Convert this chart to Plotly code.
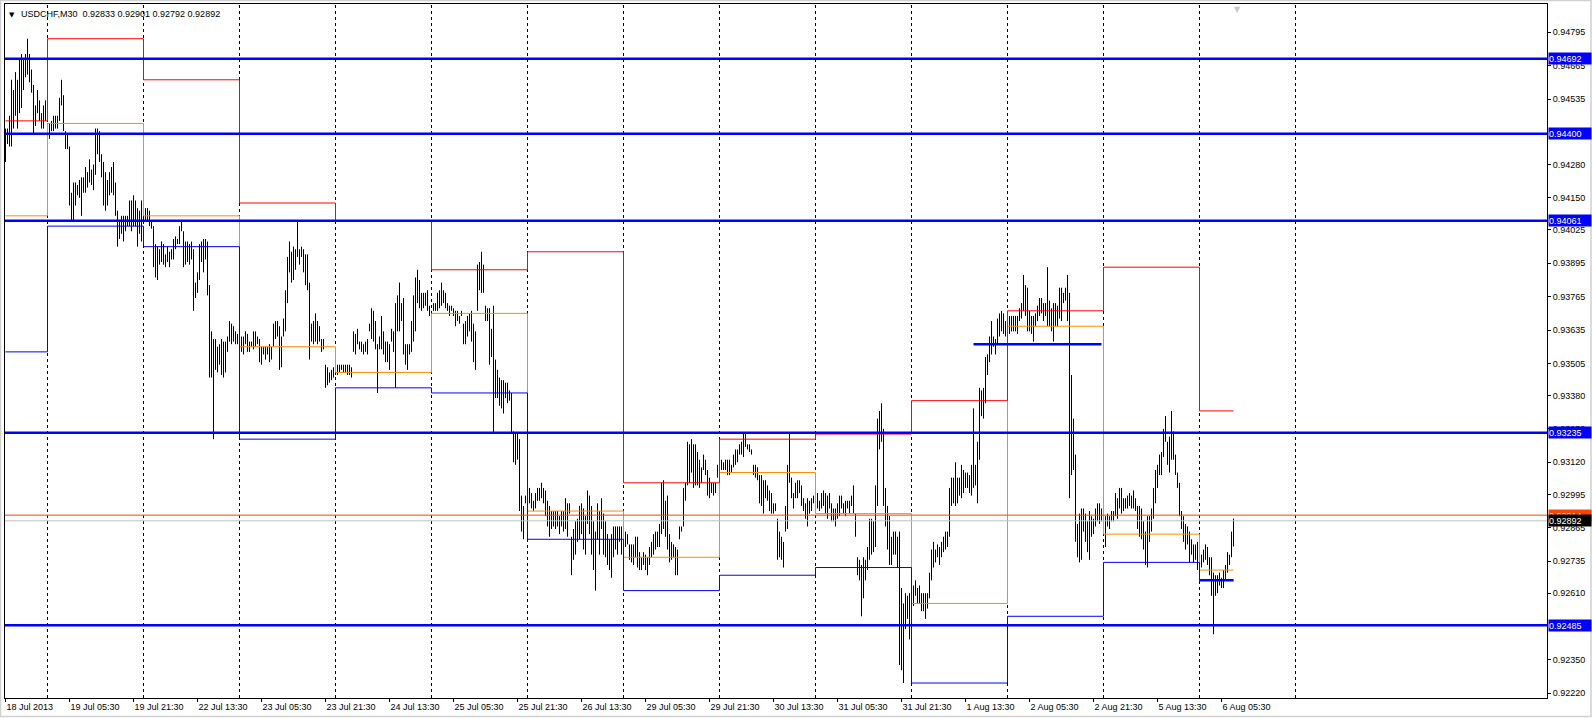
import plotly.graph_objects as go

# ---------------- data ----------------
title_text = "USDCHF,M30  0.92833 0.92901 0.92792 0.92892"

# M30 bar highs / lows, bar 0 = 18 Jul 2013 13:30
hi = [
    0.9442,0.9442,0.9447,0.9461,0.9457,0.9464,0.9461,0.9469,0.9471,0.9469,0.9471,0.9477,0.9471,0.9465,0.9459,0.9451,0.9457,0.9453,0.9448,0.9451,0.9453,
    0.9444,0.9444,0.9445,0.9447,0.9447,0.9447,0.9454,0.9461,0.9455,0.9441,0.9440,0.9435,0.9417,0.9421,0.9421,0.9420,0.9422,0.9423,0.9423,0.9427,
    0.9425,0.9430,0.9426,0.9428,0.9442,0.9442,0.9441,0.9432,0.9429,0.9425,0.9422,0.9425,0.9427,0.9429,0.9421,0.9410,0.9406,0.9408,0.9408,0.9408,
    0.9408,0.9414,0.9414,0.9416,0.9414,0.9411,0.9410,0.9414,0.9413,0.9411,0.9411,0.9410,0.9406,0.9404,0.9397,0.9396,0.9395,0.9398,0.9397,0.9393,
    0.9396,0.9394,0.9395,0.9399,0.9400,0.9399,0.9404,0.9406,0.9402,0.9398,0.9398,0.9397,0.9398,0.9395,0.9382,0.9386,0.9397,0.9398,0.9399,0.9399,0.9398,
    0.9381,0.9363,0.9360,0.9360,0.9357,0.9358,0.9360,0.9359,0.9359,0.9361,0.9367,0.9366,0.9365,0.9363,0.9362,0.9361,0.9361,0.9361,0.9363,
    0.9362,0.9359,0.9359,0.9363,0.9363,0.9361,0.9360,0.9357,0.9357,0.9357,0.9357,0.9358,0.9357,0.9366,0.9367,0.9367,0.9365,0.9361,0.9368,0.9379,
    0.9392,0.9398,0.9394,0.9396,0.9395,0.9406,0.9395,0.9396,0.9395,0.9393,0.9393,0.9382,0.9366,0.9367,0.9370,0.9367,0.9365,0.9360,0.9360,0.9350,
    0.9349,0.9347,0.9348,0.9349,0.9351,0.9350,0.9350,0.9350,0.9350,0.9350,0.9350,0.9350,0.9349,0.9363,0.9362,0.9364,0.9359,0.9359,0.9358,0.9359,
    0.9360,0.9366,0.9372,0.9371,0.9367,0.9358,0.9361,0.9369,0.9363,0.9359,0.9359,0.9358,0.9364,0.9363,0.9374,0.9377,0.9382,0.9374,0.9376,0.9358,
    0.9358,0.9358,0.9367,0.9377,0.9384,0.9387,0.9383,0.9378,0.9378,0.9378,0.9379,0.9373,0.9371,0.9374,0.9374,0.9378,0.9379,0.9382,0.9379,0.9378,
    0.9374,0.9373,0.9373,0.9372,0.9371,0.9371,0.9369,0.9371,0.9366,0.9367,0.9369,0.9370,0.9371,0.9366,0.9363,0.9389,0.9390,0.9394,0.9389,0.9373,
    0.9372,0.9372,0.9364,0.9373,0.9352,0.9348,0.9345,0.9344,0.9344,0.9343,0.9343,0.9340,0.9339,0.9324,0.9323,0.9323,0.9321,0.9299,0.9295,0.9299,
    0.9300,0.9302,0.9300,0.9297,0.9300,0.9302,0.9302,0.9304,0.9302,0.9301,0.9297,0.9295,0.9293,0.9293,0.9293,0.9293,0.9291,0.9293,0.9293,0.9298,
    0.9296,0.9296,0.9283,0.9286,0.9289,0.9290,0.9295,0.9296,0.9294,0.9291,0.9301,0.9299,0.9295,0.9289,0.9285,0.9296,0.9293,0.9298,0.9292,0.9289,
    0.9284,0.9282,0.9284,0.9287,0.9287,0.9287,0.9287,0.9287,0.9284,0.9285,0.9284,0.9280,0.9280,0.9280,0.9283,0.9283,0.9277,0.9275,0.9277,0.9276,
    0.9275,0.9279,0.9281,0.9284,0.9285,0.9285,0.9288,0.9304,0.9305,0.9297,0.9299,0.9284,0.9281,0.9280,0.9279,0.9278,0.9287,0.9287,0.9302,0.9304,
    0.9320,0.9319,0.9321,0.9319,0.9319,0.9316,0.9313,0.9310,0.9315,0.9313,0.9309,0.9306,0.9304,0.9304,0.9304,0.9311,0.9317,0.9313,0.9312,0.9313,
    0.9313,0.9313,0.9311,0.9315,0.9317,0.9317,0.9319,0.9320,0.9323,0.9323,0.9319,0.9319,0.9317,0.9311,0.9311,0.9310,0.9307,0.9307,0.9305,0.9305,
    0.9303,0.9301,0.9300,0.9296,0.9296,0.9290,0.9285,0.9283,0.9281,0.9295,0.9311,0.9323,0.9306,0.9300,0.9304,0.9305,0.9305,0.9303,0.9298,0.9296,
    0.9298,0.9297,0.9298,0.9299,0.9304,0.9300,0.9297,0.9300,0.9301,0.9300,0.9299,0.9300,0.9296,0.9294,0.9294,0.9296,0.9299,0.9299,0.9296,0.9297,
    0.9297,0.9297,0.9299,0.9303,0.9292,0.9275,0.9274,0.9272,0.9275,0.9274,0.9279,0.9290,0.9290,0.9289,0.9303,0.9329,0.9332,0.9335,0.9325,0.9302,
    0.9295,0.9291,0.9283,0.9285,0.9285,0.9283,0.9285,0.9263,0.9257,0.9261,0.9260,0.9261,0.9262,0.9264,0.9266,0.9263,0.9264,0.9261,0.9261,0.9261,
    0.9261,0.9269,0.9278,0.9281,0.9278,0.9280,0.9279,0.9281,0.9283,0.9285,0.9285,0.9302,0.9306,0.9306,0.9312,0.9306,0.9306,0.9311,0.9309,0.9308,
    0.9308,0.9307,0.9311,0.9333,0.9311,0.9320,0.9341,0.9340,0.9341,0.9353,0.9354,0.9361,0.9367,0.9361,0.9360,0.9368,0.9370,0.9371,0.9370,0.9367,
    0.9369,0.9369,0.9369,0.9369,0.9369,0.9369,0.9372,0.9374,0.9385,0.9381,0.9380,0.9371,0.9369,0.9369,0.9370,0.9373,0.9376,0.9376,0.9374,0.9374,
    0.9388,0.9375,0.9372,0.9374,0.9374,0.9373,0.9380,0.9380,0.9378,0.9380,0.9385,0.9378,0.9346,0.9329,0.9315,0.9288,0.9292,0.9294,0.9294,0.9292,
    0.9289,0.9293,0.9291,0.9290,0.9294,0.9296,0.9296,0.9294,0.9299,0.9291,0.9292,0.9291,0.9293,0.9293,0.9300,0.9298,0.9302,0.9302,0.9298,0.9298,
    0.9299,0.9300,0.9299,0.9301,0.9298,0.9295,0.9295,0.9294,0.9289,0.9285,0.9291,0.9291,0.9294,0.9302,0.9309,0.9311,0.9315,0.9316,0.9325,0.9330,
    0.9320,0.9322,0.9332,0.9324,0.9315,0.9308,0.9304,0.9293,0.9291,0.9288,0.9287,0.9285,0.9282,0.9280,0.9280,0.9281,0.9278,0.9276,0.9278,0.9280,
    0.9279,0.9275,0.9275,0.9269,0.9268,0.9268,0.9269,0.9267,0.9270,0.9272,0.9277,0.9276,0.9285,0.92901,
]
lo = [
    0.9429,0.9436,0.9435,0.9435,0.9442,0.9447,0.9442,0.9448,0.9450,0.9457,0.9462,0.9463,0.9460,0.9456,0.9440,0.9443,0.9448,0.9445,0.9442,0.9442,0.9445,
    0.9442,0.9438,0.9441,0.9441,0.9442,0.9442,0.9445,0.9451,0.9441,0.9434,0.9434,0.9412,0.9406,0.9406,0.9412,0.9416,0.9415,0.9408,0.9417,0.9417,
    0.9419,0.9421,0.9420,0.9418,0.9424,0.9432,0.9429,0.9423,0.9412,0.9410,0.9412,0.9416,0.9417,0.9416,0.9408,0.9396,0.9399,0.9401,0.9398,0.9402,
    0.9404,0.9404,0.9402,0.9404,0.9404,0.9396,0.9401,0.9398,0.9406,0.9406,0.9406,0.9404,0.9403,0.9388,0.9384,0.9383,0.9389,0.9390,0.9389,0.9388,
    0.9390,0.9388,0.9391,0.9391,0.9395,0.9397,0.9397,0.9402,0.9388,0.9389,0.9390,0.9389,0.9391,0.9371,0.9376,0.9378,0.9383,0.9390,0.9386,0.9391,0.9377,
    0.9345,0.9345,0.9321,0.9348,0.9347,0.9350,0.9346,0.9345,0.9347,0.9355,0.9359,0.9358,0.9359,0.9358,0.9358,0.9357,0.9355,0.9354,0.9358,
    0.9355,0.9355,0.9357,0.9356,0.9357,0.9358,0.9351,0.9350,0.9354,0.9352,0.9354,0.9351,0.9352,0.9357,0.9360,0.9361,0.9348,0.9349,0.9361,0.9363,
    0.9374,0.9386,0.9382,0.9383,0.9387,0.9392,0.9389,0.9392,0.9386,0.9381,0.9379,0.9352,0.9359,0.9358,0.9359,0.9358,0.9359,0.9355,0.9356,0.9341,
    0.9342,0.9343,0.9344,0.9345,0.9346,0.9346,0.9347,0.9348,0.9347,0.9347,0.9346,0.9346,0.9345,0.9355,0.9354,0.9358,0.9356,0.9355,0.9354,0.9355,
    0.9354,0.9363,0.9360,0.9359,0.9356,0.9339,0.9356,0.9356,0.9354,0.9351,0.9351,0.9348,0.9359,0.9355,0.9341,0.9363,0.9363,0.9367,0.9354,0.9350,
    0.9348,0.9354,0.9355,0.9359,0.9363,0.9374,0.9372,0.9371,0.9372,0.9373,0.9371,0.9369,0.9369,0.9371,0.9371,0.9371,0.9372,0.9373,0.9374,0.9372,
    0.9371,0.9369,0.9371,0.9369,0.9365,0.9367,0.9366,0.9369,0.9358,0.9358,0.9361,0.9363,0.9359,0.9351,0.9348,0.9371,0.9379,0.9378,0.9378,0.9367,
    0.9367,0.9350,0.9353,0.9323,0.9337,0.9337,0.9334,0.9333,0.9331,0.9337,0.9335,0.9336,0.9323,0.9312,0.9311,0.9313,0.9293,0.9285,0.9282,0.9296,
    0.9295,0.9296,0.9294,0.9293,0.9294,0.9297,0.9297,0.9298,0.9296,0.9291,0.9287,0.9283,0.9286,0.9287,0.9286,0.9287,0.9284,0.9287,0.9285,0.9286,
    0.9283,0.9292,0.9268,0.9274,0.9276,0.9281,0.9282,0.9284,0.9278,0.9276,0.9288,0.9284,0.9276,0.9270,0.9262,0.9282,0.9276,0.9286,0.9276,0.9275,
    0.9272,0.9270,0.9267,0.9275,0.9278,0.9276,0.9281,0.9276,0.9277,0.9279,0.9280,0.9274,0.9273,0.9272,0.9275,0.9271,0.9270,0.9270,0.9272,0.9270,
    0.9268,0.9272,0.9275,0.9276,0.9278,0.9279,0.9279,0.9284,0.9286,0.9283,0.9278,0.9273,0.9274,0.9275,0.9268,0.9268,0.9282,0.9285,0.9287,0.9297,
    0.9303,0.9304,0.9308,0.9302,0.9303,0.9303,0.9302,0.9304,0.9309,0.9307,0.9299,0.9298,0.9300,0.9299,0.9300,0.9306,0.9309,0.9309,0.9309,0.9309,
    0.9307,0.9307,0.9308,0.9310,0.9311,0.9312,0.9315,0.9315,0.9314,0.9318,0.9317,0.9316,0.9315,0.9307,0.9306,0.9305,0.9296,0.9295,0.9292,0.9298,
    0.9297,0.9293,0.9292,0.9292,0.9293,0.9274,0.9275,0.9274,0.9271,0.9285,0.9286,0.9304,0.9298,0.9294,0.9298,0.9298,0.9300,0.9295,0.9293,0.9290,
    0.9287,0.9292,0.9293,0.9296,0.9293,0.9294,0.9293,0.9294,0.9295,0.9292,0.9290,0.9294,0.9289,0.9289,0.9287,0.9290,0.9291,0.9294,0.9292,0.9291,
    0.9294,0.9292,0.9295,0.9292,0.9283,0.9268,0.9266,0.9252,0.9259,0.9266,0.9270,0.9274,0.9276,0.9277,0.9279,0.9295,0.9317,0.9320,0.9295,0.9287,
    0.9278,0.9272,0.9272,0.9276,0.9276,0.9271,0.9233,0.9231,0.9226,0.9247,0.9251,0.9243,0.9252,0.9256,0.9260,0.9257,0.9257,0.9254,0.9254,0.9251,
    0.9255,0.9259,0.9266,0.9271,0.9273,0.9275,0.9272,0.9275,0.9277,0.9278,0.9279,0.9283,0.9295,0.9296,0.9295,0.9296,0.9299,0.9298,0.9300,0.9302,
    0.9302,0.9300,0.9299,0.9302,0.9303,0.9296,0.9313,0.9330,0.9329,0.9335,0.9346,0.9351,0.9354,0.9357,0.9354,0.9358,0.9361,0.9363,0.9362,0.9361,
    0.9361,0.9362,0.9363,0.9363,0.9363,0.9362,0.9367,0.9368,0.9371,0.9369,0.9363,0.9363,0.9362,0.9359,0.9365,0.9367,0.9369,0.9370,0.9367,0.9369,
    0.9365,0.9365,0.9363,0.9359,0.9365,0.9365,0.9368,0.9367,0.9374,0.9375,0.9367,0.9298,0.9307,0.9309,0.9281,0.9275,0.9273,0.9274,0.9285,0.9281,
    0.9277,0.9274,0.9283,0.9284,0.9287,0.9289,0.9288,0.9289,0.9284,0.9279,0.9287,0.9286,0.9289,0.9289,0.9291,0.9290,0.9294,0.9292,0.9293,0.9294,
    0.9294,0.9295,0.9294,0.9294,0.9293,0.9286,0.9283,0.9282,0.9278,0.9272,0.9271,0.9281,0.9285,0.9290,0.9296,0.9302,0.9307,0.9307,0.9314,0.9320,
    0.9311,0.9308,0.9313,0.9313,0.9307,0.9302,0.9291,0.9286,0.9281,0.9278,0.9280,0.9273,0.9276,0.9273,0.9274,0.9270,0.9268,0.9271,0.9273,0.9274,
    0.9272,0.9268,0.9260,0.9245,0.9260,0.9261,0.9264,0.9263,0.9263,0.9266,0.9269,0.9272,0.9275,0.92792,
]

# daily indicator levels (previous day high / close / low), step changes at day starts
day_start  = [0, 21, 69, 117, 165, 213, 261, 309, 357, 405, 453, 501, 549, 597]
prev_high  = [0.9445, 0.9477, 0.9461, 0.9413, 0.9406, 0.9387, 0.9394, 0.9304, 0.9321, 0.9323, 0.9336, 0.9371, 0.9388, 0.9332]
prev_close = [0.9408, 0.9444, 0.9408, 0.9357, 0.9347, 0.9370, 0.9293, 0.9275, 0.9308, 0.9292, 0.9257, 0.9365, 0.9284, 0.9270]
prev_low   = [0.9355, 0.9404, 0.9396, 0.9321, 0.9341, 0.9339, 0.9282, 0.9262, 0.9268, 0.9271, 0.9226, 0.9252, 0.9273, 0.9266]

# horizontal levels
level_lines = [0.94692, 0.94400, 0.94061, 0.93235, 0.92485]
level_text  = ["0.94692", "0.94400", "0.94061", "0.93235", "0.92485"]
seg_level = [0.9358, 0.9266]
seg_from  = [484, 597]
seg_to    = [548, 614]
ask_level, ask_text = 0.92914, "0.92914"
bid_level, bid_text = 0.92892, "0.92892"

# axes
x_tick_idx = [0, 32, 64, 96, 128, 160, 192, 224, 256, 288, 320, 352, 384, 416, 448, 480, 512, 544, 576, 608]
x_tick_text = ["18 Jul 2013", "19 Jul 05:30", "19 Jul 21:30", "22 Jul 13:30", "23 Jul 05:30", "23 Jul 21:30",
               "24 Jul 13:30", "25 Jul 05:30", "25 Jul 21:30", "26 Jul 13:30", "29 Jul 05:30", "29 Jul 21:30",
               "30 Jul 13:30", "31 Jul 05:30", "31 Jul 21:30", "1 Aug 13:30", "2 Aug 05:30", "2 Aug 21:30",
               "5 Aug 13:30", "6 Aug 05:30"]
grid_idx = [21, 69, 117, 165, 213, 261, 309, 357, 405, 453, 501, 549, 597, 645]
# visible price-scale labels (0.94405 and 0.92480 are fully covered by level labels in the reference)
y_tick_text = ["0.94795", "0.94665", "0.94535", "0.94280", "0.94150", "0.94025", "0.93895",
               "0.93765", "0.93635", "0.93505", "0.93380", "0.93250", "0.93120", "0.92995", "0.92865",
               "0.92735", "0.92610", "0.92350", "0.92220"]

# ---------------- figure ----------------
FONT = "Liberation Sans, Arial, sans-serif"
n = min(len(hi), len(lo))
last = n - 1

bx, by = [], []
for i in range(n):
    bx += [i, i, None]
    by += [lo[i], hi[i], None]

fig = go.Figure()
fig.add_trace(go.Scatter(x=bx, y=by, mode="lines", line=dict(color="black", width=1),
                         hoverinfo="skip", showlegend=False))


def step(vals, color):
    xs = list(day_start) + [last]
    ys = list(vals) + [vals[-1]]
    fig.add_trace(go.Scatter(x=xs, y=ys, mode="lines", line=dict(color=color, width=1, shape="hv"),
                             hoverinfo="skip", showlegend=False))


step(prev_close, "#FF8C00")
step(prev_high, "#FF0000")
step(prev_low, "#0000FF")

# plot area in pixels: x 5..1547, y 4..698 -> paper coords for the outer window frame
PW, PH = 1542.0, 694.0
shapes = [dict(type="rect", xref="paper", yref="paper",
               x0=(0.5 - 5) / PW, x1=(1591 - 5) / PW, y0=(698 - 716.5) / PH, y1=(698 - 0.5) / PH,
               line=dict(color="#D0D0D0", width=1.5), layer="below")]
for g in grid_idx:
    shapes.append(dict(type="line", xref="x", yref="paper", x0=g, x1=g, y0=0, y1=1,
                       line=dict(color="black", width=1, dash="3px,3px"), layer="below"))
shapes.append(dict(type="line", xref="paper", yref="y", x0=0, x1=1, y0=bid_level, y1=bid_level,
                   line=dict(color="#C0C0C0", width=1)))
shapes.append(dict(type="line", xref="paper", yref="y", x0=0, x1=1, y0=ask_level, y1=ask_level,
                   line=dict(color="#FF4500", width=1)))
for lv in level_lines:
    shapes.append(dict(type="line", xref="paper", yref="y", x0=0, x1=1, y0=lv, y1=lv,
                       line=dict(color="#0000FF", width=2.5)))
for lv, a, b in zip(seg_level, seg_from, seg_to):
    shapes.append(dict(type="line", xref="x", yref="y", x0=a, x1=b, y0=lv, y1=lv,
                       line=dict(color="#0000FF", width=2.5)))

annotations = []


def price_label(y, text, bg, fg="white"):
    annotations.append(dict(xref="paper", yref="y", x=1, y=y, xanchor="left", yanchor="middle",
                            xshift=1, text=text, showarrow=False, bgcolor=bg, borderpad=0,
                            width=42, height=11, align="left",
                            font=dict(family=FONT, size=9, color=fg)))


for lv, t in zip(level_lines, level_text):
    price_label(lv, t, "#0000FF")
price_label(ask_level, ask_text, "#FF4500")
price_label(bid_level, bid_text, "#000000")

annotations.append(dict(xref="paper", yref="paper", x=0, y=1, xanchor="left", yanchor="top",
                        xshift=14, yshift=-3, text=title_text, showarrow=False,
                        font=dict(family=FONT, size=9, color="black")))
annotations.append(dict(xref="paper", yref="paper", x=0, y=1, xanchor="left", yanchor="top",
                        xshift=2, yshift=-5, text="▼", showarrow=False,
                        font=dict(family="DejaVu Sans", size=7, color="black")))
annotations.append(dict(xref="paper", yref="paper", x=(1237 - 5) / PW, y=1, xanchor="center", yanchor="top",
                        yshift=1, text="▼", showarrow=False,
                        font=dict(family="DejaVu Sans", size=8, color="#C8C8C8")))

y_top, y_bot = 0.9490525, 0.922017

fig.update_layout(
    width=1592, height=718, autosize=False,
    margin=dict(l=5, r=45, t=4, b=20, pad=0),
    paper_bgcolor="white", plot_bgcolor="white",
    showlegend=False, shapes=shapes, annotations=annotations,
    xaxis=dict(range=[-0.25, 770.75], showgrid=False, zeroline=False,
               showline=True, mirror=True, linecolor="black", linewidth=1,
               ticks="outside", ticklen=3, tickcolor="black", tickwidth=1,
               tickvals=x_tick_idx, ticktext=x_tick_text, ticklabelposition="outside right",
               tickfont=dict(family=FONT, size=9, color="black"), fixedrange=True),
    yaxis=dict(range=[y_bot, y_top], side="right", showgrid=False, zeroline=False,
               showline=True, mirror=True, linecolor="black", linewidth=1,
               ticks="outside", ticklen=3, tickcolor="black", tickwidth=1,
               tickvals=[float(t) for t in y_tick_text], ticktext=y_tick_text,
               tickfont=dict(family=FONT, size=9, color="black"), fixedrange=True),
)

fig.write_html("out.html", config={"displayModeBar": False},
               post_script="document.body.style.margin='0px';document.body.style.overflow='hidden';")
